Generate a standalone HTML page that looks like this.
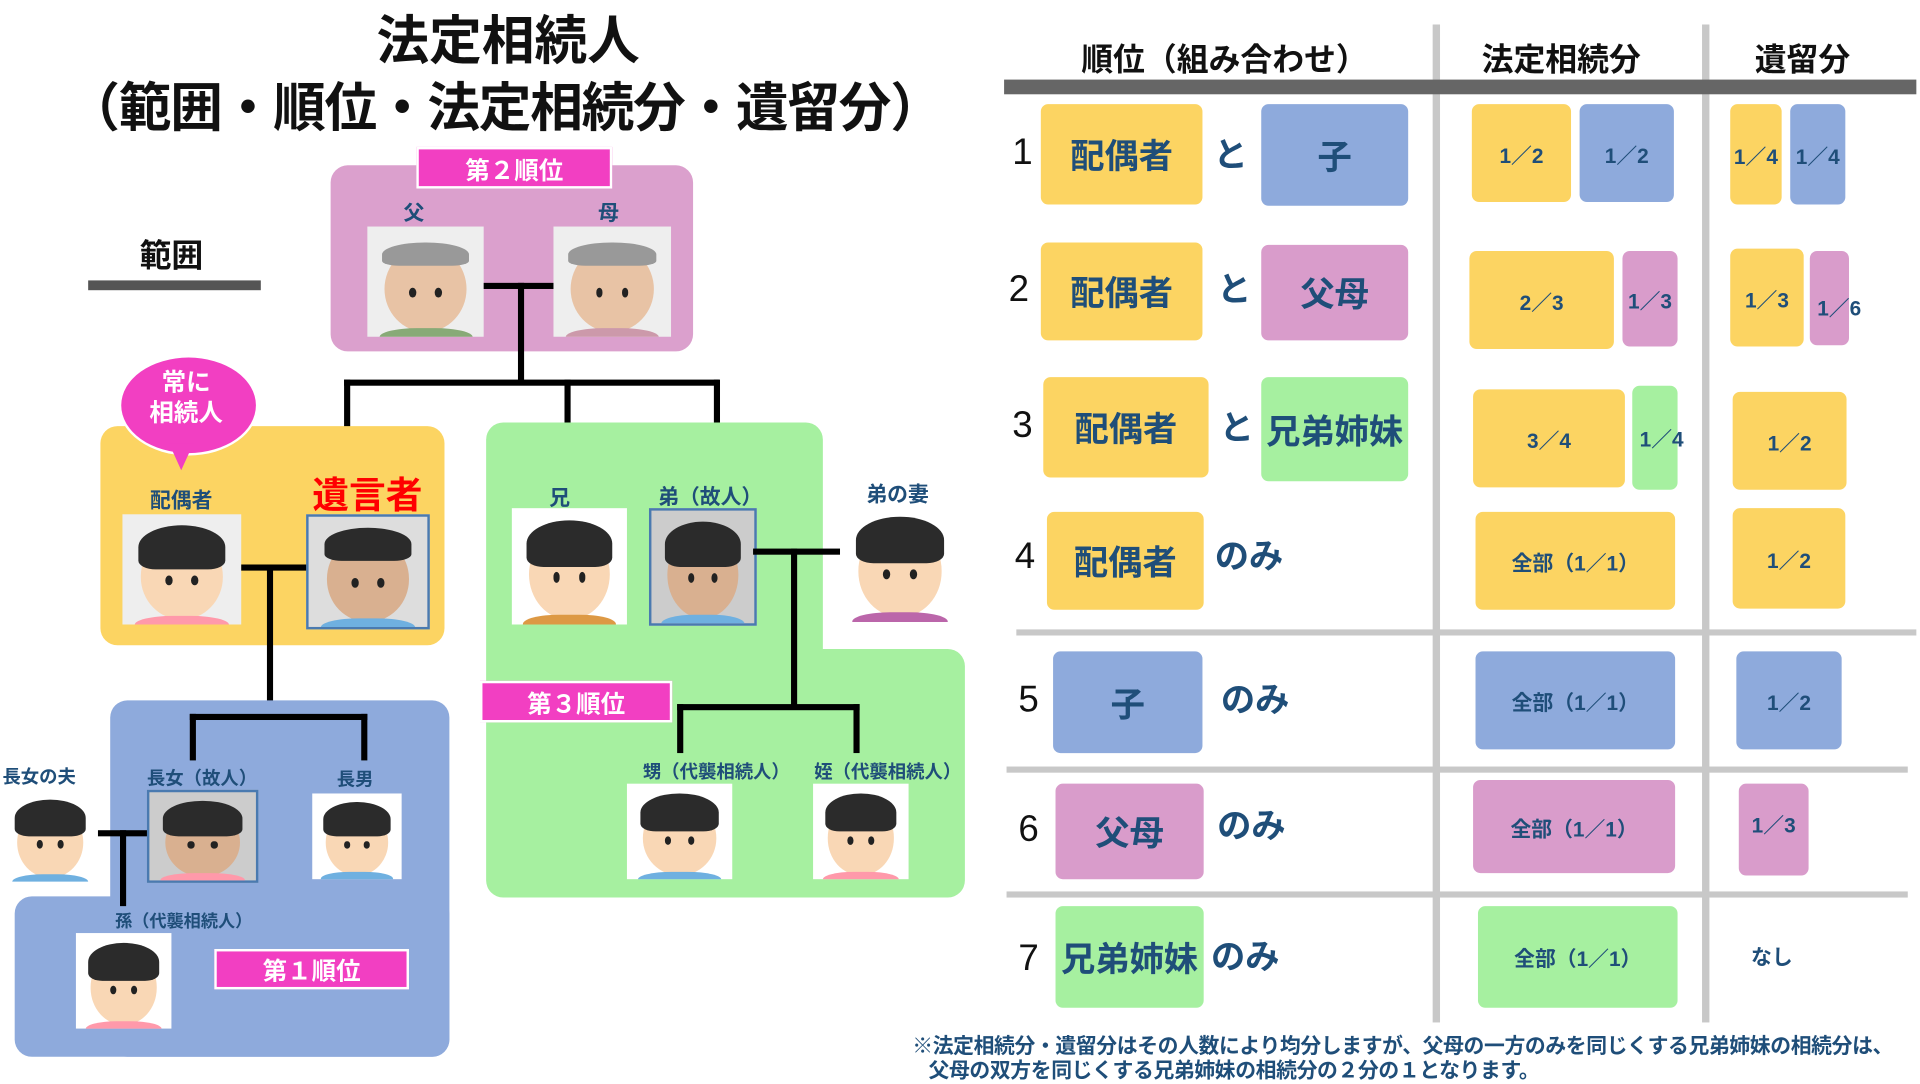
<!DOCTYPE html>
<html><head><meta charset="utf-8"><style>
body{margin:0;width:1920px;height:1080px;overflow:hidden;background:#fff;font-family:"Liberation Sans","Noto Sans CJK JP",sans-serif;}
#w{position:absolute;left:0;top:0;width:1568px;height:882px;transform:scale(1.2245);transform-origin:0 0;}
.a{position:absolute;}
.r{position:absolute;border-radius:14px;}
.t{position:absolute;white-space:nowrap;font-weight:bold;color:#1f4e79;transform:translate(-50%,-50%);}
.l{position:absolute;background:#000;}
.tag{position:absolute;background:#f23fc2;color:#fff;font-weight:bold;font-size:20px;display:flex;align-items:center;justify-content:center;border:2px solid #fff;}
.ph{position:absolute;background:#eee;overflow:hidden;}
.ph .hd{position:absolute;left:15%;top:18%;width:70%;height:78%;border-radius:50%;background:#f9d7b5;}
.ph .hr{position:absolute;left:13%;top:10%;width:74%;height:40%;border-radius:50% 50% 20% 20%;background:#2b2b2b;}
.ph .e1,.ph .e2{position:absolute;top:55%;width:6%;height:9%;border-radius:50%;background:#222;}
.ph .e1{left:36%}.ph .e2{left:58%}
.ph .bd{position:absolute;left:10%;top:92%;width:80%;height:20%;background:#6fb0e0;border-radius:40% 40% 0 0;}
.g .hr{background:#999;height:22%;top:14%}
.b{position:absolute;display:flex;align-items:center;justify-content:center;font-weight:bold;color:#1f4e79;border-radius:6px;white-space:nowrap;}
.big{font-size:28px;}
.fr{font-size:17px;}
.Y{background:#fcd462}.B{background:#8eaadc}.P{background:#d99ccb}.G{background:#a6f0a0}
.n{position:absolute;font-size:30px;color:#111;transform:translate(-50%,-50%);}
.gl{position:absolute;background:#c8c8c8;}
</style></head><body><div id="w">

<div class="t" style="left:415px;top:30px;font-size:43px;color:#111">法定相続人</div>
<div class="t" style="left:412px;top:85px;font-size:43px;color:#111;letter-spacing:-1px">（範囲・順位・法定相続分・遺留分）</div>
<div class="t" style="left:140px;top:207px;font-size:26px;color:#111">範囲</div>
<div class="a" style="left:72px;top:229px;width:141px;height:8px;background:#555"></div>

<!-- pink -->
<div class="r" style="left:270px;top:135px;width:296px;height:152px;background:#dba0cd"></div>
<div class="tag" style="left:340px;top:120px;width:156px;height:30px">第２順位</div>
<div class="t" style="left:338px;top:172px;font-size:17px">父</div>
<div class="t" style="left:497px;top:172px;font-size:17px">母</div>
<div class="ph g" style="left:300px;top:185px;width:95px;height:90px"><div class="hd" style="background:#e8c3a5"></div><div class="hr"></div><div class="e1"></div><div class="e2"></div><div class="bd" style="background:#8a7"></div></div>
<div class="ph g" style="left:452px;top:185px;width:96px;height:90px"><div class="hd" style="background:#e8c3a5"></div><div class="hr"></div><div class="e1"></div><div class="e2"></div><div class="bd" style="background:#c9a"></div></div>
<div class="l" style="left:395px;top:231px;width:57px;height:5px"></div>
<div class="l" style="left:423px;top:231px;width:5px;height:83px"></div>
<div class="l" style="left:281px;top:310px;width:306px;height:5px"></div>
<div class="l" style="left:281px;top:310px;width:5px;height:55px"></div>
<div class="l" style="left:461px;top:310px;width:5px;height:62px"></div>
<div class="l" style="left:583px;top:310px;width:5px;height:62px"></div>

<!-- orange -->
<div class="r" style="left:82px;top:348px;width:281px;height:179px;background:#fcd462"></div>
<div class="a" style="left:97px;top:290px;width:110px;height:78px;border-radius:50%;background:#f23fc2;border:2px solid #fff"></div>
<div class="a" style="left:138px;top:362px;width:0;height:0;border-left:10px solid transparent;border-right:10px solid transparent;border-top:22px solid #f23fc2"></div>
<div class="t" style="left:152px;top:326px;font-size:20px;color:#fff;line-height:1.25;text-align:center">常に<br>相続人</div>
<div class="t" style="left:148px;top:407px;font-size:17px">配偶者</div>
<div class="t" style="left:300px;top:402px;font-size:30px;color:#f00">遺言者</div>
<div class="ph" style="left:100px;top:420px;width:97px;height:90px"><div class="hd"></div><div class="hr"></div><div class="e1"></div><div class="e2"></div><div class="bd" style="background:#f9a"></div></div>
<div class="ph" style="left:250px;top:420px;width:97px;height:90px;border:2px solid #4a7ab0;background:#ddd"><div class="hd" style="background:#d9b090"></div><div class="hr" style="height:30%"></div><div class="e1"></div><div class="e2"></div><div class="bd"></div></div>
<div class="l" style="left:197px;top:461px;width:53px;height:5px"></div>
<div class="l" style="left:218px;top:461px;width:5px;height:126px"></div>

<!-- blue -->
<div class="r" style="left:90px;top:572px;width:277px;height:291px;background:#8eaadc"></div>
<div class="r" style="left:12px;top:732px;width:355px;height:131px;background:#8eaadc"></div>
<div class="l" style="left:155px;top:583px;width:145px;height:5px"></div>
<div class="l" style="left:155px;top:583px;width:5px;height:38px"></div>
<div class="l" style="left:295px;top:583px;width:5px;height:38px"></div>
<div class="t" style="left:165px;top:635px;font-size:15px">長女（故人）</div>
<div class="t" style="left:290px;top:636px;font-size:15px">長男</div>
<div class="t" style="left:32px;top:634px;font-size:15px">長女の夫</div>
<div class="ph" style="left:120px;top:645px;width:87px;height:72px;border:2px solid #4a7ab0;background:#ccc"><div class="hd" style="background:#d9b090"></div><div class="hr"></div><div class="e1"></div><div class="e2"></div><div class="bd" style="background:#f9a"></div></div>
<div class="ph" style="left:255px;top:648px;width:73px;height:70px;background:#fff"><div class="hd"></div><div class="hr"></div><div class="e1"></div><div class="e2"></div><div class="bd"></div></div>
<div class="ph" style="left:2px;top:645px;width:78px;height:75px;background:#fff"><div class="hd"></div><div class="hr"></div><div class="e1"></div><div class="e2"></div><div class="bd"></div></div>
<div class="l" style="left:80px;top:678px;width:40px;height:5px"></div>
<div class="l" style="left:98px;top:678px;width:5px;height:62px"></div>
<div class="t" style="left:150px;top:752px;font-size:14px">孫（代襲相続人）</div>
<div class="ph" style="left:62px;top:762px;width:78px;height:78px;background:#fff"><div class="hd"></div><div class="hr"></div><div class="e1"></div><div class="e2"></div><div class="bd" style="background:#f9a"></div></div>
<div class="tag" style="left:175px;top:775px;width:155px;height:29px">第１順位</div>

<!-- green -->
<div class="r" style="left:397px;top:345px;width:275px;height:388px;background:#a6f0a0"></div>
<div class="r" style="left:600px;top:530px;width:188px;height:203px;background:#a6f0a0"></div>
<div class="t" style="left:457px;top:405px;font-size:17px">兄</div>
<div class="t" style="left:580px;top:404px;font-size:17px">弟（故人）</div>
<div class="t" style="left:733px;top:402px;font-size:17px">弟の妻</div>
<div class="ph" style="left:418px;top:415px;width:94px;height:95px;background:#fff"><div class="hd"></div><div class="hr"></div><div class="e1"></div><div class="e2"></div><div class="bd" style="background:#d94"></div></div>
<div class="ph" style="left:530px;top:415px;width:84px;height:92px;border:2px solid #4a7ab0;background:#ccc"><div class="hd" style="background:#d9b090"></div><div class="hr"></div><div class="e1"></div><div class="e2"></div><div class="bd"></div></div>
<div class="ph" style="left:686px;top:412px;width:98px;height:96px;background:#fff"><div class="hd"></div><div class="hr"></div><div class="e1"></div><div class="e2"></div><div class="bd" style="background:#b6a"></div></div>
<div class="l" style="left:615px;top:448px;width:71px;height:5px"></div>
<div class="l" style="left:646px;top:448px;width:5px;height:131px"></div>
<div class="l" style="left:553px;top:575px;width:149px;height:5px"></div>
<div class="l" style="left:553px;top:575px;width:5px;height:40px"></div>
<div class="l" style="left:697px;top:575px;width:5px;height:40px"></div>
<div class="tag" style="left:392px;top:556px;width:153px;height:30px">第３順位</div>
<div class="t" style="left:585px;top:630px;font-size:15px">甥（代襲相続人）</div>
<div class="t" style="left:725px;top:630px;font-size:15px">姪（代襲相続人）</div>
<div class="ph" style="left:512px;top:640px;width:86px;height:78px;background:#fff"><div class="hd"></div><div class="hr"></div><div class="e1"></div><div class="e2"></div><div class="bd"></div></div>
<div class="ph" style="left:664px;top:640px;width:78px;height:78px;background:#fff"><div class="hd"></div><div class="hr"></div><div class="e1"></div><div class="e2"></div><div class="bd" style="background:#f9a"></div></div>

<!-- table -->
<div class="gl" style="left:1170px;top:20px;width:6px;height:815px"></div>
<div class="gl" style="left:1390px;top:20px;width:6px;height:815px"></div>
<div class="t" style="left:1000px;top:47px;font-size:26px;color:#111">順位（組み合わせ）</div>
<div class="t" style="left:1275px;top:47px;font-size:26px;color:#111">法定相続分</div>
<div class="t" style="left:1472px;top:47px;font-size:26px;color:#111">遺留分</div>
<div class="a" style="left:820px;top:65px;width:745px;height:12px;background:#666"></div>
<div class="gl" style="left:830px;top:514px;width:735px;height:5px"></div>
<div class="gl" style="left:822px;top:626px;width:736px;height:5px"></div>
<div class="gl" style="left:822px;top:728px;width:736px;height:5px"></div>

<div class="n" style="left:835px;top:125px">1</div>
<div class="b Y big" style="left:850px;top:85px;width:132px;height:82px">配偶者</div>
<div class="t big" style="left:1005px;top:125px;font-size:28px">と</div>
<div class="b B big" style="left:1030px;top:85px;width:120px;height:83px">子</div>
<div class="b Y fr" style="left:1202px;top:85px;width:81px;height:80px">1／2</div>
<div class="b B fr" style="left:1290px;top:85px;width:77px;height:80px">1／2</div>
<div class="b Y fr" style="left:1413px;top:85px;width:42px;height:82px">1／4</div>
<div class="b B fr" style="left:1462px;top:85px;width:45px;height:82px">1／4</div>

<div class="n" style="left:832px;top:237px">2</div>
<div class="b Y big" style="left:850px;top:198px;width:132px;height:80px">配偶者</div>
<div class="t" style="left:1008px;top:235px;font-size:28px">と</div>
<div class="b P big" style="left:1030px;top:200px;width:120px;height:78px">父母</div>
<div class="b Y fr" style="left:1200px;top:205px;width:118px;height:80px">2／3</div>
<div class="b P fr" style="left:1325px;top:205px;width:45px;height:78px">1／3</div>
<div class="b Y fr" style="left:1413px;top:203px;width:60px;height:80px">1／3</div>
<div class="b P" style="left:1478px;top:205px;width:32px;height:77px"></div>
<div class="t fr" style="left:1502px;top:250px">1／6</div>

<div class="n" style="left:835px;top:348px">3</div>
<div class="b Y big" style="left:852px;top:308px;width:135px;height:82px">配偶者</div>
<div class="t" style="left:1010px;top:348px;font-size:28px">と</div>
<div class="b G big" style="left:1030px;top:308px;width:120px;height:85px">兄弟姉妹</div>
<div class="b Y fr" style="left:1203px;top:318px;width:124px;height:80px">3／4</div>
<div class="b G" style="left:1333px;top:315px;width:37px;height:85px"></div>
<div class="t fr" style="left:1357px;top:357px">1／4</div>
<div class="b Y fr" style="left:1415px;top:320px;width:93px;height:80px">1／2</div>

<div class="n" style="left:837px;top:455px">4</div>
<div class="b Y big" style="left:855px;top:418px;width:128px;height:80px">配偶者</div>
<div class="t" style="left:1020px;top:453px;font-size:28px">のみ</div>
<div class="b Y fr" style="left:1205px;top:418px;width:163px;height:80px">全部（1／1）</div>
<div class="b Y fr" style="left:1415px;top:415px;width:92px;height:82px">1／2</div>

<div class="n" style="left:840px;top:572px">5</div>
<div class="b B big" style="left:860px;top:532px;width:122px;height:83px">子</div>
<div class="t" style="left:1025px;top:570px;font-size:28px">のみ</div>
<div class="b B fr" style="left:1205px;top:532px;width:163px;height:80px">全部（1／1）</div>
<div class="b B fr" style="left:1418px;top:532px;width:86px;height:80px">1／2</div>

<div class="n" style="left:840px;top:678px">6</div>
<div class="b P big" style="left:862px;top:640px;width:121px;height:78px">父母</div>
<div class="t" style="left:1022px;top:673px;font-size:28px">のみ</div>
<div class="b P fr" style="left:1203px;top:637px;width:165px;height:76px">全部（1／1）</div>
<div class="b P fr" style="left:1420px;top:640px;width:57px;height:75px;align-items:flex-start;padding-top:20px;box-sizing:border-box">1／3</div>

<div class="n" style="left:840px;top:783px">7</div>
<div class="b G big" style="left:862px;top:740px;width:121px;height:83px">兄弟姉妹</div>
<div class="t" style="left:1017px;top:780px;font-size:28px">のみ</div>
<div class="b G fr" style="left:1207px;top:740px;width:163px;height:83px">全部（1／1）</div>
<div class="t" style="left:1447px;top:780px;font-size:17px">なし</div>

<div class="a" style="left:745px;top:845px;font-size:17px;font-weight:bold;color:#1f4e79;line-height:20px;white-space:nowrap;letter-spacing:-0.3px">※法定相続分・遺留分はその人数により均分しますが、父母の一方のみを同じくする兄弟姉妹の相続分は、<br>&nbsp;&nbsp;&nbsp;父母の双方を同じくする兄弟姉妹の相続分の２分の１となります。</div>
</div></body></html>
